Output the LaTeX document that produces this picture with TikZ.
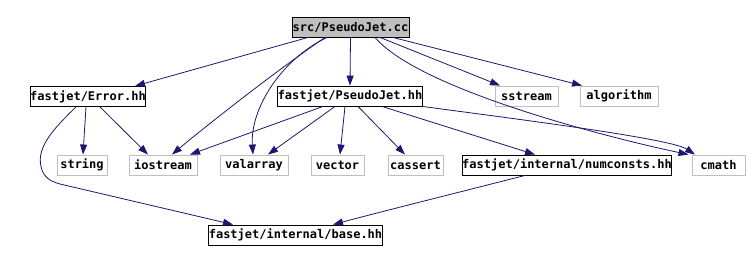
\documentclass[tikz,border=0pt]{standalone}
\usepackage{fontspec}
\setmonofont{DejaVu Sans Mono}
\usetikzlibrary{arrows.meta}
\definecolor{edgec}{HTML}{191970}
\definecolor{grayb}{HTML}{BFBFBF}
\tikzset{
  box/.style={draw=black, line width=0.9pt, minimum height=20pt, inner sep=0pt, font=\fontsize{12}{14}\selectfont\ttfamily\bfseries, fill=white},
  sysbox/.style={box, draw=grayb},
  rootbox/.style={box, fill=grayb},
  dep/.style={draw=edgec, line width=0.8pt, -{Triangle[length=10pt,width=7pt]}}
}
\begin{document}
\begin{tikzpicture}[x=1pt,y=-1pt]
\useasboundingbox (0,0) rectangle (750,262);
\node[rootbox, minimum width=117pt] (cc) at (350.5,27) {src/PseudoJet.cc};
\node[box, minimum width=114pt] (err) at (88,96.5) {fastjet/Error.hh};
\node[box, minimum width=142pt] (pj) at (350,96) {fastjet/PseudoJet.hh};
\node[sysbox, minimum width=63pt] (sstream) at (526.5,96) {sstream};
\node[sysbox, minimum width=78pt] (algo) at (619,96) {algorithm};
\node[sysbox, minimum width=50pt] (string) at (82,165) {string};
\node[sysbox, minimum width=68pt] (iostream) at (163,165) {iostream};
\node[sysbox, minimum width=68pt] (valarray) at (254,165) {valarray};
\node[sysbox, minimum width=53pt] (vector) at (337.5,165) {vector};
\node[sysbox, minimum width=55pt] (cassert) at (415.5,165) {cassert};
\node[box, minimum width=204pt] (numc) at (567,165) {fastjet/internal/numconsts.hh};
\node[sysbox, minimum width=53pt] (cmath) at (718.5,165) {cmath};
\node[box, minimum width=167pt] (base) at (295.5,235) {fastjet/internal/base.hh};

% from src/PseudoJet.cc
\draw[dep] ([xshift=-42.5pt]cc.south) -- ([xshift=47pt]err.north);
\draw[dep] (cc.south) -- (pj.north);
\draw[dep] ([xshift=29.5pt]cc.south) -- ([xshift=-26.5pt]sstream.north);
\draw[dep] ([xshift=42.5pt]cc.south) -- ([xshift=-37pt]algo.north);
\draw[dep] ([xshift=-25.5pt]cc.south) .. controls (270,75) and (195,135) .. ([xshift=9pt]iostream.north);
\draw[dep] ([xshift=-23.5pt]cc.south) .. controls (280,60) and (250,110) .. ([xshift=-1pt]valarray.north);
\draw[dep] ([xshift=24.5pt]cc.south) .. controls (420,90) and (610,138) .. ([xshift=-30pt]cmath.north);

% from fastjet/PseudoJet.hh
\draw[dep] ([xshift=-27pt]pj.south) -- ([xshift=27pt]iostream.north);
\draw[dep] ([xshift=-15pt]pj.south) -- ([xshift=14pt]valarray.north);
\draw[dep] ([xshift=-5pt]pj.south) -- ([xshift=2.5pt]vector.north);
\draw[dep] ([xshift=8pt]pj.south) -- ([xshift=-10.5pt]cassert.north);
\draw[dep] ([xshift=32pt]pj.south) -- ([xshift=-32pt]numc.north);
\draw[dep] (pj.south east) .. controls (500,117) and (670,138) .. ([xshift=-23.5pt]cmath.north);

% from fastjet/Error.hh
\draw[dep] ([xshift=-2pt]err.south) -- ([xshift=1pt]string.north);
\draw[dep] ([xshift=12pt]err.south) -- ([xshift=-15pt]iostream.north);
\draw[dep] ([xshift=-12pt]err.south) .. controls (50,132) and (35,150) .. (42,170)
  .. controls (45,178) and (50,181) .. (60,184) -- ([xshift=-62.5pt]base.north);

% from numconsts
\draw[dep] ([xshift=-42pt]numc.south) .. controls (460,192) and (380,212) .. ([xshift=37.5pt]base.north);
\end{tikzpicture}
\end{document}
